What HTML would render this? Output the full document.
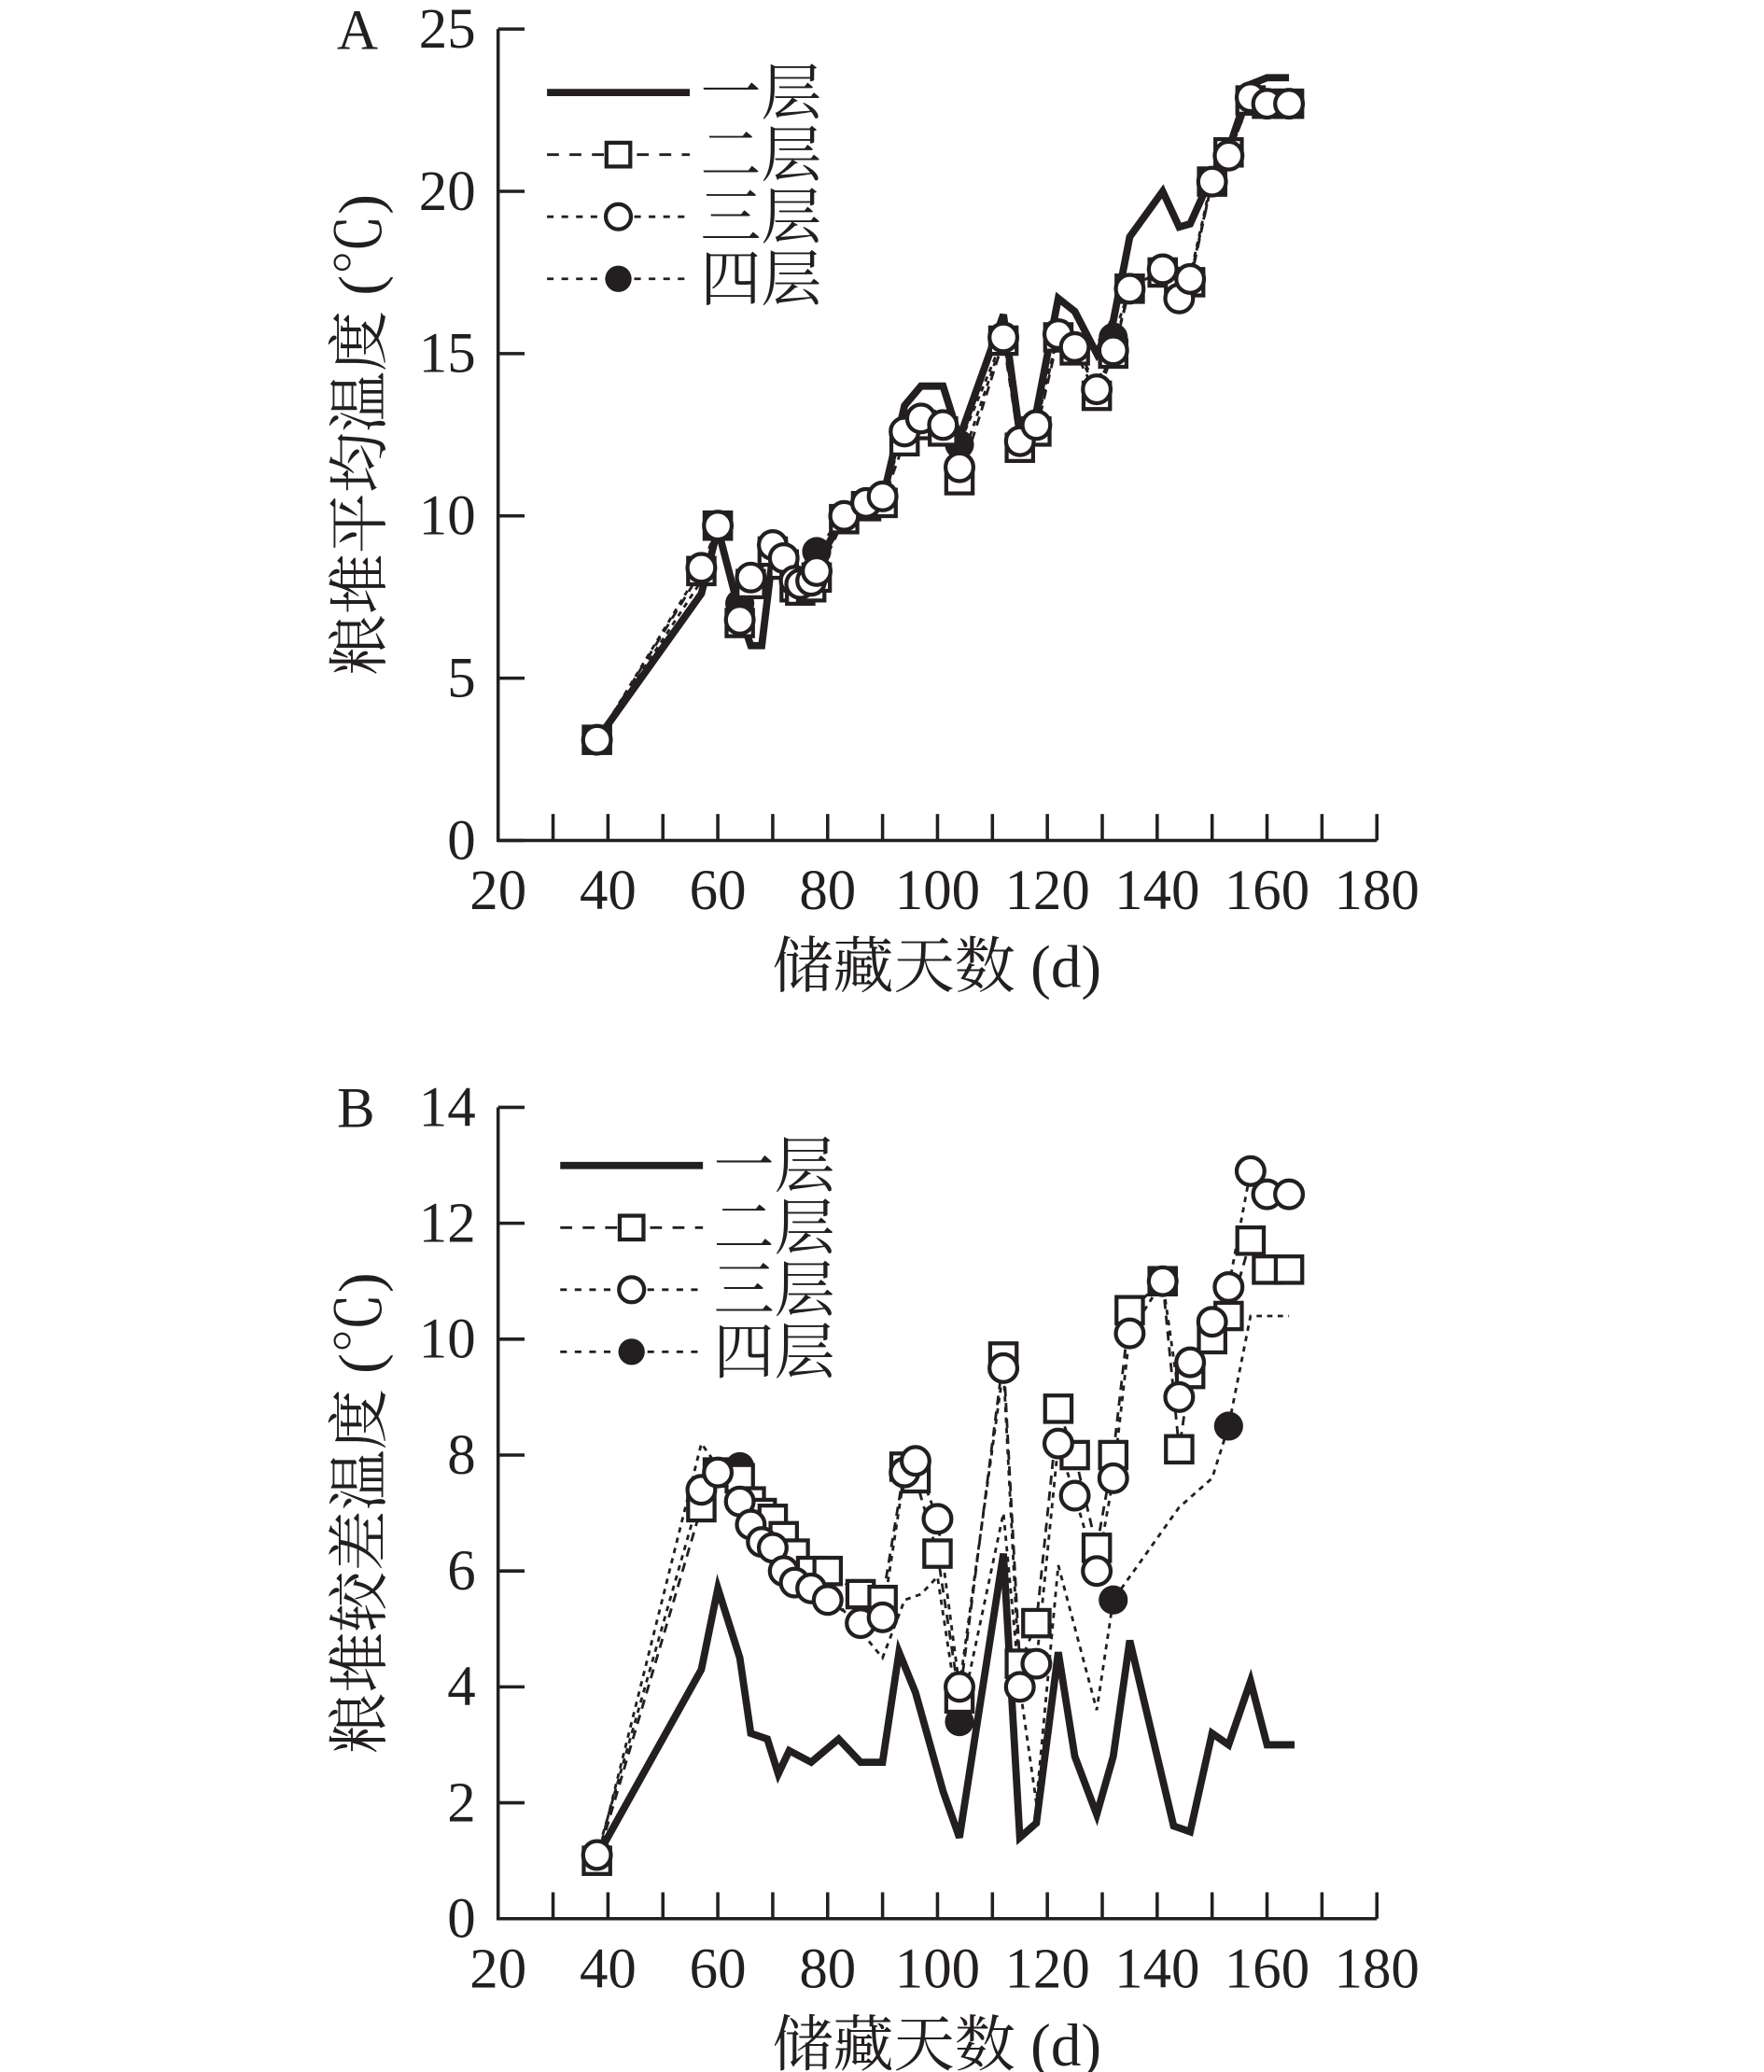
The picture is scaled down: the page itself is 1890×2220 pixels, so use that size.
<!DOCTYPE html>
<html><head><meta charset="utf-8"><style>
html,body{margin:0;padding:0;background:#fff}
svg{display:block}
text{fill:#231f20}
.num{font-family:"Liberation Serif","Noto Serif CJK SC",serif;font-size:43px}
.cjk{font-family:"Liberation Serif","Noto Serif CJK SC",serif}
</style></head><body>
<svg id="chart" width="1890" height="2220" viewBox="0 0 1331 1568" xmlns="http://www.w3.org/2000/svg"></svg>
<script>
// ---- Panel A data ----
const daysA = [38,57,60,64,66,68,70,72,74,75,77,78,83,87,90,94,97,101,104,112,115,118,122,125,129,132,135,141,144,146,150,153,157,160,164];
const a1 = [3.1,7.6,9.6,7.0,6.0,6.0,8.8,8.6,8.0,7.9,8.0,8.5,10.0,10.4,10.5,13.4,14.0,14.0,12.4,16.2,12.5,13.2,16.7,16.3,15.0,16.0,18.6,20.0,18.9,19.0,20.5,21.3,23.3,23.5,23.5];
const a2 = [3.1,8.3,9.7,6.7,7.9,null,8.9,8.5,7.8,7.7,7.8,8.1,9.9,10.3,10.4,12.3,12.8,12.6,11.1,15.4,12.1,12.6,15.5,15.1,13.7,15.0,17.0,17.5,17.2,17.2,20.3,21.2,22.8,22.7,22.7];
const a3 = [3.1,8.4,9.7,6.8,8.1,null,9.1,8.7,8.0,7.9,8.0,8.3,10.0,10.4,10.6,12.6,13.0,12.8,11.5,15.5,12.3,12.8,15.6,15.2,13.9,15.1,17.0,17.6,16.7,17.3,20.3,21.1,22.9,22.7,22.7];
const a4 = [3.1,8.0,9.5,7.3,8.0,null,8.8,8.6,8.0,7.9,8.1,8.9,10.1,10.6,11.0,12.6,13.3,13.1,12.2,15.5,12.4,12.9,15.6,15.3,14.0,15.5,17.0,17.5,17.3,17.4,20.4,21.1,22.9,22.8,22.8];
const a4MarkDays = [64,78,104,132,153];
// ---- Panel B data ----
const daysB1 = [38,57,60,64,66,69,71,73,77,82,86,90,93,96,101,104,112,115,118,122,125,129,132,135,143,146,150,153,157,160,165];
const b1 = [1.07,4.3,5.7,4.5,3.2,3.1,2.5,2.9,2.7,3.1,2.7,2.7,4.6,3.9,2.2,1.4,6.3,1.4,1.65,4.6,2.8,1.8,2.8,4.8,1.6,1.5,3.2,3.0,4.1,3.0,3.0];
const daysB = [38,57,60,64,66,68,70,72,74,77,80,86,90,94,96,100,104,112,115,118,122,125,129,132,135,141,144,146,150,153,157,160,164];
const b2 = [1.0,7.1,7.7,7.6,7.2,7.0,6.9,6.6,6.3,6.0,6.0,5.6,5.5,7.8,7.6,6.3,3.8,9.7,4.4,5.1,8.8,8.0,6.4,8.0,10.5,11.0,8.1,9.4,10.0,10.4,11.7,11.2,11.2];
const b3 = [1.1,7.4,7.7,7.2,6.8,6.5,6.4,6.0,5.8,5.7,5.5,5.1,5.2,7.7,7.9,6.9,4.0,9.5,4.0,4.4,8.2,7.3,6.0,7.6,10.1,11.0,9.0,9.6,10.3,10.9,12.9,12.5,12.5];
const daysB4 = [38,57,60,64,77,90,94,97,100,104,112,115,118,122,129,132,144,150,153,157,164];
const b4 = [1.0,8.2,7.8,7.8,6.0,4.5,5.5,5.6,5.9,3.4,7.0,4.0,2.0,6.1,3.6,5.5,7.1,7.6,8.5,10.4,10.4];
const b4MarkDays = [64,77,104,132,153];
const xTicks = [20,40,60,80,100,120,140,160,180];
const yTicksA = [0,5,10,15,20,25];
const yTicksB = [0,2,4,6,8,10,12,14];
const legendLabels = ["一层","二层","三层","四层"];

const NS = "http://www.w3.org/2000/svg";
const svg = document.getElementById("chart");
function mk(tag, attrs, parent){const e=document.createElementNS(NS,tag);for(const k in attrs)e.setAttribute(k,attrs[k]);(parent||svg).appendChild(e);return e;}

function panel(cfg){
  const g = mk("g",{});
  
  
  const X0=375,X1=1040;
  const sx = d => X0 + (d-20)*(X1-X0)/160;
  const sy = v => cfg.y0 + (v-0)*(cfg.yTop-cfg.y0)/cfg.ymax;
  const ax = mk("path",{d:`M${X0} ${cfg.yTop} V${cfg.y0} H${X1}`,stroke:"#231f20","stroke-width":2.5,fill:"none"},g);
  
  
  for(let d=30; d<=180; d+=10){ mk("line",{x1:sx(d),x2:sx(d),y1:cfg.y0,y2:cfg.y0-20,stroke:"#231f20","stroke-width":2.5},g); }
  xTicks.forEach(d=>{
    const t=mk("text",{x:sx(d),y:cfg.y0+52,"text-anchor":"middle",class:"num"},g); t.textContent=d;
    
    
  });
  cfg.yTicks.forEach(v=>{
    mk("line",{x1:X0,x2:X0+20,y1:sy(v),y2:sy(v),stroke:"#231f20","stroke-width":2.5},g);
    const t=mk("text",{x:358,y:sy(v)+14,"text-anchor":"end",class:"num"},g); t.textContent=v;
    
    
  });
  const xt=mk("text",{x:707,y:cfg.y0+111,"text-anchor":"middle",class:"cjk","font-size":46},g); xt.textContent="储藏天数 (d)";
  
  
  const cy=(cfg.y0+cfg.yTop)/2;
  const yt=mk("text",{x:0,y:0,"text-anchor":"middle",class:"cjk","font-size":46,transform:`translate(286 ${cy}) rotate(-90)`},g); yt.textContent=cfg.ytitle;
  
  
  const pl=mk("text",{x:253,y:cfg.yTop+15,class:"num","font-size":42},g); pl.textContent=cfg.label;
  
  

  function line(days, vals, style, name){
    let d="";let pen=false;
    days.forEach((dd,i)=>{const v=vals[i]; if(v==null){return;} d+=(pen?"L":"M")+sx(dd).toFixed(1)+" "+sy(v).toFixed(1)+" "; pen=true;});
    const p=mk("path",Object.assign({d:d,fill:"none",stroke:"#231f20","stroke-linejoin":"miter"},style),g);
    
    
  }
  function marks(days, vals, kind, name, only){
    days.forEach((dd,i)=>{
      const v=vals[i]; if(v==null) return; if(only && only.indexOf(dd)<0) return;
      let e;
      if(kind==="sq") e=mk("rect",{x:sx(dd)-10,y:sy(v)-10,width:20,height:20,fill:"#fff",stroke:"#231f20","stroke-width":3},g);
      else if(kind==="ci") e=mk("circle",{cx:sx(dd),cy:sy(v),r:10.5,fill:"#fff",stroke:"#231f20","stroke-width":3},g);
      else e=mk("circle",{cx:sx(dd),cy:sy(v),r:11,fill:"#231f20"},g);
      
      
    });
  }
  const dash1={"stroke-width":2,"stroke-dasharray":"7 5"};
  const dash2={"stroke-width":2,"stroke-dasharray":"4 4"};
  line(cfg.d4, cfg.s4, dash2, "layer4-line");
  line(cfg.d3, cfg.s3, dash2, "layer3-line");
  line(cfg.d2, cfg.s2, dash1, "layer2-line");
  line(cfg.d1, cfg.s1, {"stroke-width":5.5}, "layer1-line");
  marks(cfg.d4, cfg.s4, "fi", "layer4-marker", cfg.m4);
  marks(cfg.d2, cfg.s2, "sq", "layer2-marker");
  marks(cfg.d3, cfg.s3, "ci", "layer3-marker");

  const L=cfg.leg;
  const lg=mk("g",{},g);
  
  
  mk("line",{x1:L.x,x2:L.x+108,y1:L.y,y2:L.y,stroke:"#231f20","stroke-width":5.5},lg);
  [1,2,3].forEach(k=>{
    const y=L.y+k*47;
    mk("line",{x1:L.x,x2:L.x+108,y1:y,y2:y,stroke:"#231f20","stroke-width":2,"stroke-dasharray":k===1?"9 8":"5 6"},lg);
    const cx=L.x+54;
    if(k===1) mk("rect",{x:cx-9,y:y-9,width:18,height:18,fill:"#fff",stroke:"#231f20","stroke-width":3},lg);
    else if(k===2) mk("circle",{cx:cx,cy:y,r:9.5,fill:"#fff",stroke:"#231f20","stroke-width":3},lg);
    else mk("circle",{cx:cx,cy:y,r:10,fill:"#231f20"},lg);
  });
  legendLabels.forEach((s,k)=>{
    const t=mk("text",{x:L.x+116,y:L.y+k*47+16,class:"cjk","font-size":46},lg); t.textContent=s;
    
    
  });
}

panel({name:"panel-a",label:"A",y0:636,yTop:22,ymax:25,yTicks:yTicksA,ytitle:"粮堆平均温度 (℃)",
  d1:daysA,s1:a1,d2:daysA,s2:a2,d3:daysA,s3:a3,d4:daysA,s4:a4,m4:a4MarkDays,leg:{x:412,y:70}});
panel({name:"panel-b",label:"B",y0:1452,yTop:838,ymax:14,yTicks:yTicksB,ytitle:"粮堆较差温度 (℃)",
  d1:daysB1,s1:b1,d2:daysB,s2:b2,d3:daysB,s3:b3,d4:daysB4,s4:b4,m4:b4MarkDays,leg:{x:422,y:882}});
</script>
</body></html>
